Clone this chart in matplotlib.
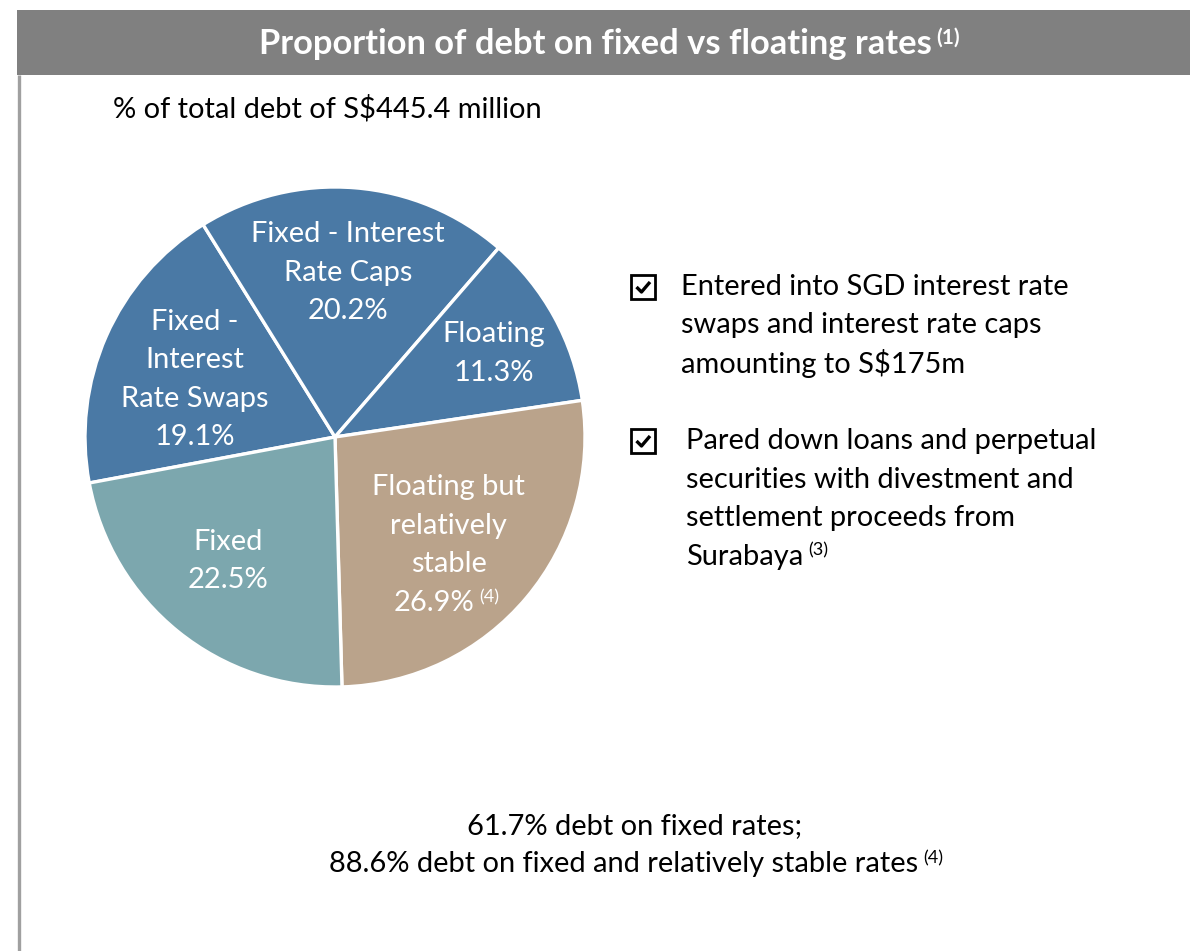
import matplotlib
matplotlib.use("Agg")
import matplotlib.pyplot as plt
import numpy as np
from matplotlib.patches import Rectangle

plt.rcParams['font.family'] = ['Lato', 'DejaVu Sans']

# data
slice_names = [['Fixed -', 'Interest', 'Rate Swaps'], ['Fixed - Interest', 'Rate Caps'],
               ['Floating'], ['Floating but', 'relatively', 'stable'], ['Fixed']]
slice_values = [19.1, 20.2, 11.3, 26.9, 22.5]
slice_notes = ['', '', '', '(4)', '']
slice_colors = ['#4a79a5', '#4a79a5', '#4a79a5', '#baa38b', '#7ca7ae']
label_dist = [0.605, 0.66, 0.718, 0.628, 0.655]
label_turn = [1.5, 0.0, -1.0, -3.5, -1.9]   # small angle nudges (deg)

title = 'Proportion of debt on fixed vs floating rates'
subtitle = '% of total debt of S$445.4 million'
bullet1 = ['Entered into SGD interest rate', 'swaps and interest rate caps',
           'amounting to S$175m']
bullet2 = ['Pared down loans and perpetual', 'securities with divestment and',
           'settlement proceeds from', 'Surabaya']
footer1 = '61.7% debt on fixed rates;'
footer2 = '88.6% debt on fixed and relatively stable rates'

W, H = 1190, 951
FS = 20.9   # main text size
SUP = 13    # superscript size
LH = 38.5   # line step in px

fig = plt.figure(figsize=(W / 100, H / 100), dpi=100)
fig.set_facecolor('white')

# pie
cx, cy, r = 335, 437, 250
axp = fig.add_axes([(cx - r) / W, (H - cy - r) / H, 2 * r / W, 2 * r / H])
wedges, _ = axp.pie(slice_values, colors=slice_colors, startangle=190.6,
                    counterclock=False, radius=1,
                    wedgeprops=dict(edgecolor='white', linewidth=2.4))
axp.set_xlim(-1, 1)
axp.set_ylim(-1, 1)
axp.set_aspect('equal')
axp.axis('off')

# overlay in pixel coords
ax0 = fig.add_axes([0, 0, 1, 1])
ax0.set_xlim(0, W)
ax0.set_ylim(H, 0)
ax0.axis('off')
ax0.patch.set_alpha(0)


def sup(txt_obj, note, color='black', size=SUP, bold=False):
    ax0.annotate(note, xy=(1, 1), xycoords=txt_obj, xytext=(3.5, 0.5),
                 textcoords='offset points', color=color, fontsize=size,
                 fontweight='bold' if bold else 'normal', ha='left', va='top')


ax0.add_patch(Rectangle((17, 10), W - 17, 65, color='#808080', lw=0))
ax0.plot([19, 19], [75, H], color='#a0a0a0', lw=2.4, solid_capstyle='butt')

t = ax0.text(595, 44, title, color='white', fontsize=24.8, fontweight='bold',
             ha='center', va='center')
sup(t, '(1)', color='white', size=15, bold=True)

ax0.text(113, 109, subtitle, fontsize=FS, ha='left', va='center', color='black')

# bullets
for yb, lines, xt, note in [(287, bullet1, 681, ''), (441, bullet2, 686, '(3)')]:
    ax0.add_patch(Rectangle((631, yb - 12), 24, 24, fill=False, ec='black', lw=2.0))
    ax0.plot([636.5, 641.5, 650], [yb, yb + 5, yb - 5], color='black', lw=2.4,
             solid_capstyle='butt')
    for k, line in enumerate(lines):
        tb = ax0.text(xt, yb + k * LH, line, fontsize=FS, ha='left', va='center',
                      color='black')
    if note:
        sup(tb, note)

ax0.text(635, 826, footer1, fontsize=FS, ha='center', va='center')
f2 = ax0.text(624, 864, footer2, fontsize=FS, ha='center', va='center')
sup(f2, '(4)')

# pie labels
for w, name, val, d, turn, note in zip(wedges, slice_names, slice_values, label_dist,
                                       label_turn, slice_notes):
    ang = np.deg2rad((w.theta1 + w.theta2) / 2 + turn)
    px = cx + d * r * np.cos(ang)
    py = cy - d * r * np.sin(ang)
    lines = name + ['%.1f%%' % val]
    n = len(lines)
    for k, line in enumerate(lines):
        shift = -15 if (note and k == n - 1) else 0
        tl = ax0.text(px + shift, py + (k - (n - 1) / 2) * LH, line, color='white',
                      fontsize=FS, ha='center', va='center')
    if note:
        sup(tl, note, color='white')

plt.savefig('out.png', dpi=100, facecolor='white')
